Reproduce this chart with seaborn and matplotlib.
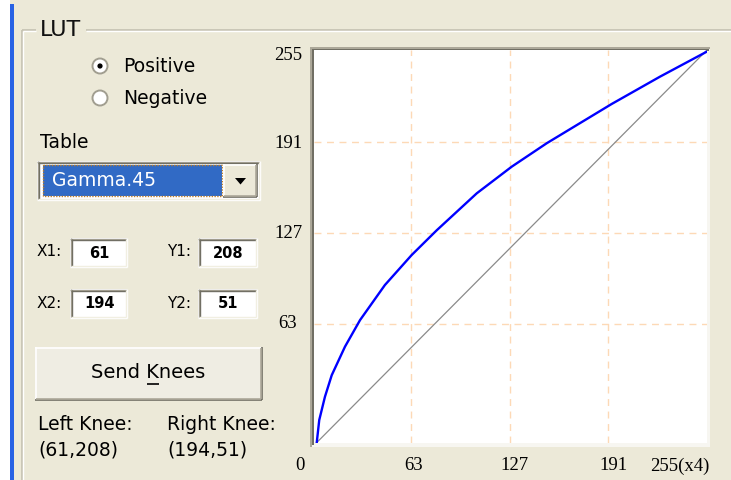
import matplotlib
matplotlib.use("Agg")
import matplotlib.pyplot as plt
import seaborn as sns
import pandas as pd
from matplotlib.patches import Rectangle, Circle, Polygon

# ---------------- data ----------------
lut_x = [1.75, 3.4, 7.1, 11.5, 20.1, 29.9, 46, 63.4, 79.6, 105.6, 128.3, 151, 193.2, 224.5, 255]
lut_y = [0, 14.9, 30, 44, 62.5, 79.8, 102.5, 122, 138, 162, 179.3, 194.5, 220, 237.7, 254]
identity_x = [1.5, 255]
identity_y = [0, 255]
x_tick_labels = ["0", "63", "127", "191", "255(x4)"]
y_tick_labels = ["255", "191", "127", "63"]
x_grid = [63, 127, 191]
y_grid = [77, 136, 195]          # dashed rows as drawn in the reference
knee_x = [61, 194]
knee_y = [208, 51]
table_name = "Gamma.45"
mode_options = ["Positive", "Negative"]

# ---------------- style ----------------
sns.set_theme(style="white")
plt.rcParams["font.family"] = ["DejaVu Sans"]
BG = "#ECE9D8"
W, H = 731, 480
SANS = 13.5
SERIF = ["Liberation Serif", "DejaVu Serif"]

fig = plt.figure(figsize=(W / 100, H / 100), dpi=100, facecolor=BG)

# background "dialog" canvas in pixel coordinates (y downwards)
bg = fig.add_axes([0, 0, 1, 1])
bg.set_xlim(0, W)
bg.set_ylim(H, 0)
bg.axis("off")
bg.set_facecolor(BG)

def rect(x0, y0, x1, y1, fc, **kw):
    bg.add_patch(Rectangle((x0, y0), x1 - x0, y1 - y0, facecolor=fc, edgecolor="none", **kw))

def hline(x0, x1, y, c, lw=1.0):
    bg.plot([x0, x1], [y, y], color=c, lw=lw, solid_capstyle="butt")

def vline(x, y0, y1, c, lw=1.0):
    bg.plot([x, x], [y0, y1], color=c, lw=lw, solid_capstyle="butt")

def sunken_box(x0, y0, x1, y1, fc="white"):
    rect(x0, y0, x1, y1, fc)
    hline(x0, x1, y0 + 0.5, "#ACA899")
    vline(x0 + 0.5, y0, y1, "#ACA899")
    hline(x0 + 1, x1 - 1, y0 + 1.5, "#716F64")
    vline(x0 + 1.5, y0 + 1, y1 - 1, "#716F64")
    hline(x0, x1, y1 - 0.5, "#FFFFFF")
    vline(x1 - 0.5, y0, y1, "#FFFFFF")
    hline(x0 + 1, x1 - 1, y1 - 1.5, "#F1EFE2")
    vline(x1 - 1.5, y0 + 1, y1 - 1, "#F1EFE2")

def raised_box(x0, y0, x1, y1, fc="#EFEDE3"):
    rect(x0, y0, x1, y1, fc)
    hline(x0, x1, y0 + 0.5, "#FFFFFF", 1.2)
    vline(x0 + 0.5, y0, y1, "#FFFFFF", 1.2)
    hline(x0, x1, y1 - 0.5, "#716F64", 1.2)
    vline(x1 - 0.5, y0, y1, "#716F64", 1.2)
    hline(x0 + 1, x1 - 1, y1 - 1.5, "#ACA899", 1.2)
    vline(x1 - 1.5, y0 + 1, y1 - 1, "#ACA899", 1.2)

# window edge
rect(0, 0, 10, H, "#FFFFFF")
rect(10, 4, 13.5, H, "#2862E4")

# group box (etched)
hline(22, 36, 30, "#C7C4B4", 1.3)
hline(86, W, 30, "#C7C4B4", 1.3)
hline(23, 36, 31.3, "#FFFFFF", 1.0)
hline(86, W, 31.3, "#FFFFFF", 1.0)
vline(22, 30, H, "#C7C4B4", 1.3)
vline(23.3, 31, H, "#FFFFFF", 1.0)
bg.text(40, 30, "LUT", fontsize=16, ha="left", va="center", color="#111111")

# radio buttons
for i, lab in enumerate(mode_options):
    cy = 66 + 32 * i
    bg.add_patch(Circle((100, cy), 7.5, facecolor="white", edgecolor="#A19E90", lw=1.4))
    if i == 0:
        bg.add_patch(Circle((100, cy), 2.6, facecolor="black", edgecolor="none"))
    bg.text(123, cy, lab, fontsize=SANS, ha="left", va="center", color="black")

# table combo
bg.text(40, 142, "Table", fontsize=SANS, ha="left", va="center", color="black")
sunken_box(37, 161, 260, 200)
rect(43, 165, 222, 196, "#316AC5")
bg.add_patch(Rectangle((43, 165), 179, 31, facecolor="none", edgecolor="#C0802A",
                       lw=1.0, ls=(0, (1, 1))))
raised_box(223, 164, 257, 197, fc=BG)
bg.add_patch(Polygon([(235, 178), (246, 178), (240.5, 184.5)], closed=True,
                     facecolor="black", edgecolor="none"))
bg.text(52, 181, table_name, fontsize=SANS, ha="left", va="center", color="white")

# knee entry fields
fields = [("X1:", knee_x[0], 37, 70, 127, 252),
          ("Y1:", knee_y[0], 167, 198, 257, 252),
          ("X2:", knee_x[1], 37, 70, 127, 303),
          ("Y2:", knee_y[1], 167, 198, 257, 303)]
for lab, val, lx, bx0, bx1, cy in fields:
    bg.text(lx, cy, lab, fontsize=11, ha="left", va="center", color="black")
    sunken_box(bx0, cy - 14, bx1, cy + 15)
    bg.text((bx0 + bx1) / 2 + 1, cy + 1, str(val), fontsize=10.5, ha="center",
            va="center", color="black", fontweight="bold")

# send button
raised_box(35, 347, 262, 400)
bg.text(148, 372, "Send Knees", fontsize=14, ha="center", va="center", color="black")
hline(147, 158.5, 384, "black", 1.2)

# knee readouts
bg.text(38, 425, "Left Knee:", fontsize=SANS, ha="left", va="center", color="black")
bg.text(38, 450, f"({knee_x[0]},{knee_y[0]})", fontsize=SANS, ha="left", va="center", color="black")
bg.text(167, 425, "Right Knee:", fontsize=SANS, ha="left", va="center", color="black")
bg.text(167, 450, f"({knee_x[1]},{knee_y[1]})", fontsize=SANS, ha="left", va="center", color="black")

# plot frame (sunken)
rect(310, 47, 710, 447, "#F7F6F1")
rect(310, 47, 710, 48.5, "#ACA899")
rect(310, 47, 311.5, 447, "#ACA899")
rect(311.5, 48.5, 709, 50.5, "#716F64")
rect(311.5, 48.5, 314, 445, "#716F64")

# axis labels (as drawn in the reference)
for lab, py in zip(y_tick_labels, [55, 143, 233, 324]):
    bg.text(288, py, lab, fontsize=13.5, ha="center", va="center", color="black",
            family=SERIF)
for lab, px in zip(x_tick_labels, [300, 414, 514, 613, 680]):
    bg.text(px, 466, lab, fontsize=13.5, ha="center", va="center", color="black",
            family=SERIF)

# ---------------- the LUT chart ----------------
ax = fig.add_axes([314 / W, 1 - 443 / H, 393 / W, 393 / H])
ax.set_facecolor("white")
ax.set_xlim(0, 255)
ax.set_ylim(0, 255)
ax.set_xticks(x_grid)
ax.set_yticks(y_grid)
ax.grid(True, color="#FDD9B6", lw=1.0, ls=(0, (5, 4)))
ax.tick_params(length=0, labelbottom=False, labelleft=False)
for s in ax.spines.values():
    s.set_visible(False)

sns.lineplot(x=identity_x, y=identity_y, ax=ax, color="#8A8A8A", lw=0.9)
curve = pd.DataFrame({"x": lut_x, "y": lut_y})
sns.lineplot(data=curve, x="x", y="y", ax=ax, color="#0000FF", lw=1.7)
ax.set_xlabel("")
ax.set_ylabel("")
ax.set_xlim(0, 255)
ax.set_ylim(0, 255)

fig.savefig("out.png", dpi=100, facecolor=BG)
